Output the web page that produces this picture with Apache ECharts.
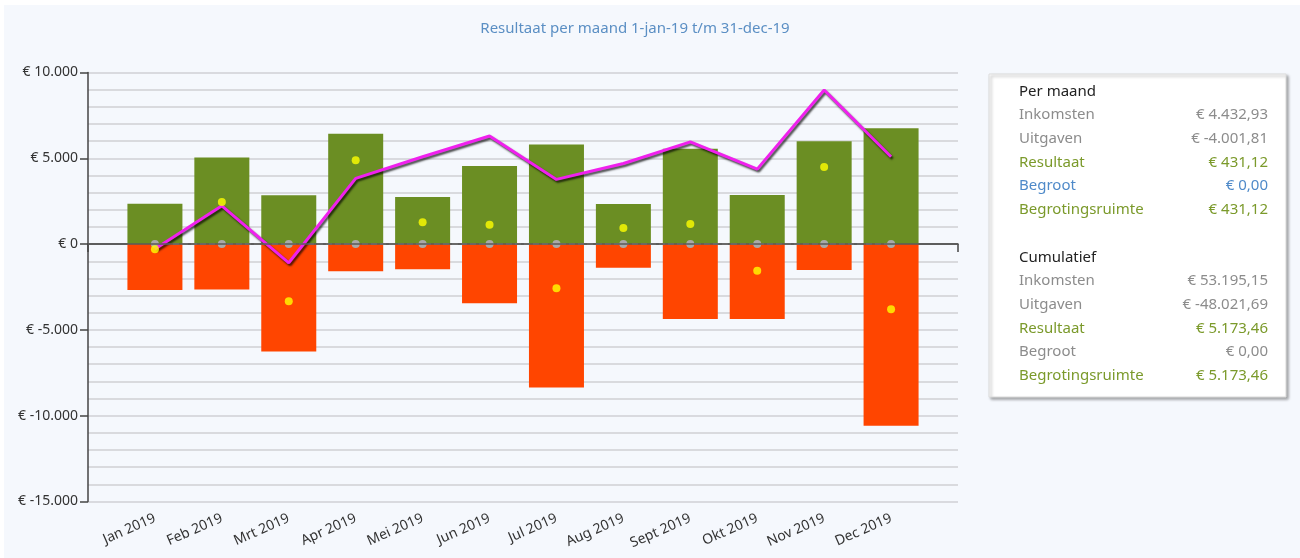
<!DOCTYPE html>
<html>
<head>
<meta charset="utf-8">
<script src="https://cdn.jsdelivr.net/npm/echarts@6/dist/echarts.min.js"></script>
<style>
    body { margin: 0; background: #ffffff; }
    #bg { position: absolute; left: 4px; top: 5px; width: 1296px; height: 553px; background: #f5f8fd; }
    #main { position: absolute; left: 0; top: 0; width: 1300px; height: 558px; }
</style>
</head>
<body>
<div id="bg"></div>
<div id="main"></div>
<script>
// maanden op de x-as
var months = ['Jan 2019', 'Feb 2019', 'Mrt 2019', 'Apr 2019', 'Mei 2019', 'Jun 2019',
    'Jul 2019', 'Aug 2019', 'Sept 2019', 'Okt 2019', 'Nov 2019', 'Dec 2019']

var inkomsten = [2350, 5050, 2850, 6430, 2740, 4550, 5800, 2330, 5560, 2860, 6000, 6745]
var uitgaven = [-2680, -2640, -6260, -1575, -1460, -3440, -8350, -1380, -4370, -4370, -1516, -10580]
var resultaat = [-300, 2460, -3330, 4890, 1280, 1130, -2580, 940, 1170, -1550, 4500, -3790]
var begroot = [0, 0, 0, 0, 0, 0, 0, 0, 0, 0, 0, 0]
var cumulatief = [-290, 2230, -1090, 3830, 5090, 6300, 3770, 4700, 5960, 4370, 8980, 5090]

// y-as
var yTicks = [-15000, -10000, -5000, 0, 5000, 10000]

// paneel rechts
var perMaandLabels = ['Inkomsten', 'Uitgaven', 'Resultaat', 'Begroot', 'Begrotingsruimte']
var perMaandValues = ['€ 4.432,93', '€ -4.001,81', '€ 431,12', '€ 0,00', '€ 431,12']
var cumulatiefLabels = ['Inkomsten', 'Uitgaven', 'Resultaat', 'Begroot', 'Begrotingsruimte']
var cumulatiefValues = ['€ 53.195,15', '€ -48.021,69', '€ 5.173,46', '€ 0,00', '€ 5.173,46']

var FONT = '"Noto Sans", "Open Sans", sans-serif'
var GREY = '#8c8c8c'
var GREEN = '#7b9a2b'
var BLUE = '#4f8ac9'
var perMaandColors = [GREY, GREY, GREEN, BLUE, GREEN]
var cumulatiefColors = [GREY, GREY, GREEN, GREY, GREEN]

function pad(arr) {
    return [null].concat(arr, [null])
}

function euro(v) {
    var s = Math.abs(v).toString().replace(/\B(?=(\d{3})+(?!\d))/g, '.')
    return '€ ' + (v < 0 ? '-' : '') + s
}

function panelBlock(title, labels, values, colors, y0) {
    var els = [{
        type: 'text', x: 1019, y: y0,
        style: { text: title, fill: '#222', font: '15px ' + FONT, verticalAlign: 'middle' }
    }]
    labels.forEach(function (l, i) {
        var y = y0 + 23.6 * (i + 1)
        els.push({
            type: 'text', x: 1019, y: y,
            style: { text: l, fill: colors[i], font: '15px ' + FONT, verticalAlign: 'middle' }
        })
        els.push({
            type: 'text', x: 1268, y: y,
            style: { text: values[i], fill: colors[i], font: '15px ' + FONT, align: 'right', verticalAlign: 'middle' }
        })
    })
    return els
}

var chart = echarts.init(document.getElementById('main'))

var option = {
    backgroundColor: 'transparent',
    animation: false,
    title: {
        text: 'Resultaat per maand 1-jan-19 t/m 31-dec-19',
        left: 630, top: 16, textAlign: 'center',
        textStyle: { color: '#5b8fc4', fontSize: 15, fontWeight: 'normal', fontFamily: FONT }
    },
    grid: { left: 88, right: 342, top: 72.5, bottom: 56.5 },
    xAxis: {
        type: 'category',
        boundaryGap: false,
        data: [''].concat(months, ['']),
        axisLine: { lineStyle: { color: '#444', width: 1.5 } },
        axisTick: { length: 8, interval: 0, lineStyle: { color: '#444', width: 1.5 } },
        axisLabel: { interval: 0, rotate: 24, color: '#333', fontSize: 14, fontFamily: FONT, margin: 16 },
        splitLine: { show: false }
    },
    yAxis: {
        type: 'value',
        min: yTicks[0], max: yTicks[yTicks.length - 1], interval: 5000,
        axisLine: { show: true, lineStyle: { color: '#444', width: 1.5 } },
        axisTick: { show: true, length: 8, lineStyle: { color: '#444', width: 1.5 } },
        axisLabel: { color: '#333', fontSize: 14, fontFamily: FONT, margin: 10, formatter: euro },
        splitLine: { lineStyle: { color: '#cfd0d4', width: 1.5 } },
        minorTick: { show: false, splitNumber: 5 },
        minorSplitLine: { show: true, lineStyle: { color: '#cfd0d4', width: 1.5 } }
    },
    series: [
        {
            name: 'Inkomsten', type: 'bar', data: pad(inkomsten), barWidth: 55,
            itemStyle: { color: '#6b8e23' }, z: 2,
            markLine: {
                silent: true, symbol: ['none', 'none'], label: { show: false },
                lineStyle: { color: '#5a5a5a', width: 1.5, type: 'solid' },
                data: [{ yAxis: 0 }]
            }
        },
        {
            name: 'Uitgaven', type: 'bar', data: pad(uitgaven), barWidth: 55, barGap: '-100%',
            itemStyle: { color: '#ff4500' }, z: 2
        },
        {
            name: 'Begroot', type: 'line', data: pad(begroot),
            symbol: 'circle', symbolSize: 8, showAllSymbol: true,
            lineStyle: { color: '#a0a0a0', width: 1.5, type: [6, 3] },
            itemStyle: { color: '#a9a9a9', borderWidth: 0 }, z: 3
        },
        {
            name: 'Cumulatief', type: 'line', data: pad(cumulatief),
            symbol: 'none',
            lineStyle: {
                color: '#f020ee', width: 3,
                shadowColor: 'rgba(0,0,0,0.7)', shadowBlur: 2, shadowOffsetX: 1.5, shadowOffsetY: 2
            },
            z: 4
        },
        {
            name: 'Resultaat', type: 'scatter', data: pad(resultaat),
            symbolSize: 8, itemStyle: { color: '#ffff00' }, z: 5
        }
    ],
    graphic: [{
        type: 'group',
        children: [{
            type: 'rect',
            shape: { x: 989, y: 74, width: 297, height: 323 },
            style: {
                fill: '#ffffff', stroke: '#dcdcdc', lineWidth: 1,
                shadowColor: 'rgba(0,0,0,0.35)', shadowBlur: 3, shadowOffsetX: 2, shadowOffsetY: 2
            }
        }].concat(
            panelBlock('Per maand', perMaandLabels, perMaandValues, perMaandColors, 91.5),
            panelBlock('Cumulatief', cumulatiefLabels, cumulatiefValues, cumulatiefColors, 257.5)
        )
    }]
}

chart.setOption(option)
</script>
</body>
</html>
